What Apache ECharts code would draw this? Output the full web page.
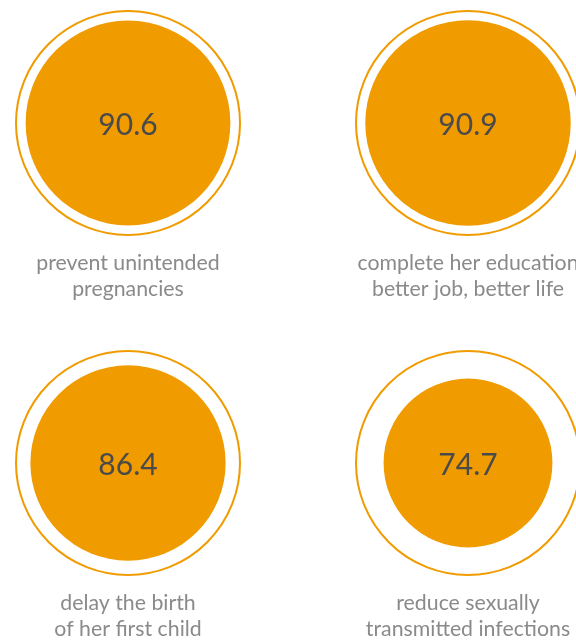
<!DOCTYPE html>
<html>
<head>
<meta charset="utf-8">
<script src="https://cdn.jsdelivr.net/npm/echarts@6/dist/echarts.min.js"></script>
<style>
html,body{margin:0;padding:0;background:#fff;overflow:hidden;}
#chart{width:576px;height:641px;}
</style>
</head>
<body>
<div id="chart"></div>
<script>
const categories = [
  "prevent unintended\npregnancies",
  "complete her education\nbetter job, better life",
  "delay the birth\nof her first child",
  "reduce sexually\ntransmitted infections"
];
const values = [90.6, 90.9, 86.4, 74.7];
const maxValue = 100;

const ORANGE = '#F09B00';
const RADIUS = 113;

const chart = echarts.init(document.getElementById('chart'));

const pos = values.map((v, i) => [i % 2, 1 - Math.floor(i / 2)]);

chart.setOption({
  animation: false,
  backgroundColor: '#ffffff',
  textStyle: { fontFamily: 'Lato' },
  grid: { left: 128, top: 123, width: 340, height: 340, containLabel: false },
  xAxis: { type: 'value', min: 0, max: 1, show: false },
  yAxis: { type: 'value', min: 0, max: 1, show: false },
  series: [
    {
      type: 'scatter',
      silent: true,
      symbol: 'circle',
      symbolSize: RADIUS * 2 - 2,
      itemStyle: { color: '#ffffff', borderColor: ORANGE, borderWidth: 2, opacity: 1 },
      data: pos.map((p, i) => ({ value: p, name: categories[i] })),
      label: {
        show: true,
        position: 'bottom',
        distance: 14,
        formatter: p => p.name,
        fontFamily: 'Lato',
        fontSize: 21.3,
        lineHeight: 26,
        color: '#8a8a8a',
        align: 'center'
      },
      z: 1
    },
    {
      type: 'scatter',
      silent: true,
      symbol: 'circle',
      symbolSize: (val, p) => values[p.dataIndex] / maxValue * RADIUS * 2,
      itemStyle: { color: ORANGE, opacity: 1 },
      data: pos.map((p, i) => ({ value: p, name: String(values[i]) })),
      label: {
        show: true,
        position: 'inside',
        formatter: p => values[p.dataIndex].toFixed(1),
        fontFamily: 'Lato',
        fontSize: 30,
        color: '#4a4a4a',
        offset: [0, 2]
      },
      z: 2
    }
  ]
});
</script>
</body>
</html>
